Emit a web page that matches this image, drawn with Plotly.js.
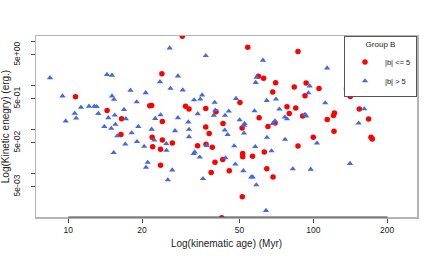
<!DOCTYPE html>
<html>
<head>
<meta charset="utf-8">
<script src="https://cdn.plot.ly/plotly-3.0.1.min.js"></script>
<style>html,body{margin:0;padding:0;background:#fff;}#chart{width:436px;height:262px;}</style>
</head>
<body>
<div id="chart"></div>
<script>
// Group B, |b| <= 5 (red circles)
var redAge = [29.2, 54.0, 86.6, 24.1, 59.7, 62.7, 70.2, 93.5, 83.6, 105.5, 136.6, 68.3, 92.5, 141.6, 10.7, 50.2, 21.5, 21.9, 30.1, 78.1, 84.8, 36.4, 31.1, 154.1, 14.4, 40.1, 79.8, 122.0, 120.9, 90.5, 60.1, 16.5, 168.2, 114.0, 24.2, 42.8, 69.8, 65.3, 36.4, 51.2, 121.5, 37.6, 16.4, 22.0, 100.0, 172.0, 174.1, 24.2, 26.6, 36.5, 33.7, 86.6, 38.7, 22.1, 23.8, 63.1, 51.5, 51.5, 56.5, 42.7, 39.7, 23.8, 64.6, 45.4, 38.3, 68.5, 51.3, 42.3];
var redEnergy = [13.4, 7.49, 5.98, 1.865, 1.635, 1.465, 1.157, 1.144, 0.928, 0.857, 0.857, 0.721, 0.588, 0.569, 0.557, 0.416, 0.351, 0.355, 0.342, 0.330, 0.311, 0.303, 0.296, 0.296, 0.273, 0.254, 0.232, 0.239, 0.210, 0.2035, 0.186, 0.177, 0.175, 0.170, 0.153, 0.137, 0.141, 0.117, 0.114, 0.109, 0.0921, 0.0817, 0.0775, 0.0673, 0.0673, 0.0673, 0.0615, 0.0581, 0.0498, 0.0466, 0.0430, 0.0426, 0.0398, 0.0408, 0.0355, 0.0309, 0.0286, 0.0242, 0.0248, 0.0209, 0.0181, 0.0155, 0.0129, 0.0115, 0.0105, 0.0083, 0.00296, 0.00099];
// Group B, |b| > 5 (blue triangles)
var blueAge = [8.42, 9.47, 9.76, 10.62, 10.77, 11.27, 12.15, 12.77, 13.06, 13.26, 14.39, 15.08, 15.08, 15.37, 14.57, 15.47, 16.88, 17.17, 17.94, 19.02, 20.7, 22.63, 23.67, 23.8, 25.93, 36.41, 28.03, 26.13, 29.33, 28.03, 32.6, 34.57, 35.16, 39.58, 48.36, 39.81, 45.2, 43.6, 39.25, 33.75, 30.9, 50.04, 52.4, 52.24, 57.54, 58.64, 58.2, 62.33, 64.55, 70.43, 72.71, 68.36, 69.8, 76.5, 78.1, 92.5, 93.63, 96.67, 95.59, 111.9, 113.9, 164.1, 161.5, 153.2, 14.03, 15.58, 14.98, 15.85, 18.14, 19.31, 21.9, 22.44, 19.07, 17.09, 20.4, 25.12, 25.16, 15.32, 21.09, 20.76, 27.26, 31.1, 31.1, 43.52, 44.72, 52.13, 64.71, 76.7, 36.72, 32.81, 32.5, 34.41, 47.55, 57.98, 67.5, 43.8, 48.05, 26.56, 25.48, 51.8, 35.46, 55.83, 56.58, 58.52, 64.12, 103.5, 82.5, 97.6, 141.2];
var blueEnergy = [1.51, 0.578, 0.156, 0.233, 0.182, 0.321, 0.339, 0.339, 0.333, 0.231, 1.79, 1.72, 0.578, 0.486, 0.185, 0.213, 0.285, 0.176, 0.784, 0.427, 0.688, 0.178, 1.22, 0.216, 7.18, 4.80, 1.65, 0.867, 0.793, 0.186, 0.474, 0.492, 0.610, 0.416, 0.507, 0.277, 0.262, 0.210, 0.211, 0.228, 0.148, 0.166, 0.137, 0.124, 0.266, 1.55, 1.175, 3.77, 0.457, 0.492, 0.292, 0.137, 0.157, 0.192, 0.175, 0.221, 0.2025, 0.978, 0.684, 0.405, 2.52, 0.894, 0.296, 0.140, 0.117, 0.131, 0.106, 0.0716, 0.0838, 0.117, 0.1013, 0.0574, 0.0531, 0.0466, 0.0413, 0.0478, 0.0335, 0.0298, 0.0179, 0.0138, 0.0936, 0.1007, 0.0683, 0.0971, 0.0767, 0.0829, 0.0665, 0.0599, 0.0435, 0.0309, 0.0283, 0.0235, 0.0426, 0.0408, 0.0326, 0.0226, 0.0163, 0.0120, 0.00715, 0.0115, 0.00762, 0.00832, 0.00832, 0.0055, 0.00144, 0.0491, 0.0127, 0.0125, 0.0169];

var seriesNames = ['|b| <= 5', '|b| > 5'];
var legendTitle = 'Group B';
var xTickVals = [10, 20, 50, 100, 200];
var xTickText = ['10', '20', '50', '100', '200'];
var yTickVals = [10, 5, 1, 0.5, 0.1, 0.05, 0.01, 0.005];
var yTickText = ['', '5e+00', '', '5e-01', '', '5e-02', '', '5e-03'];

var FONT = 'Liberation Sans, Arial, Helvetica, sans-serif';

var traces = [
  {x: redAge, y: redEnergy, type: 'scatter', mode: 'markers', name: seriesNames[0],
   marker: {symbol: 'circle', color: '#FF0000', size: 5.5, line: {width: 0}}},
  {x: blueAge, y: blueEnergy, type: 'scatter', mode: 'markers', name: seriesNames[1],
   marker: {symbol: 'triangle-up', color: '#4169E1', size: 5.5, line: {width: 0}}}
];

var layout = {
  width: 436, height: 262,
  margin: {l: 36, r: 19, t: 36, b: 45, pad: 0},
  paper_bgcolor: '#fff', plot_bgcolor: '#fff',
  font: {family: FONT, size: 8.5, color: '#222'},
  showlegend: true,
  legend: {
    x: 1, xanchor: 'right', y: 1, yanchor: 'top',
    bgcolor: '#fff', bordercolor: '#555', borderwidth: 1,
    font: {family: FONT, size: 7.5, color: '#222'},
    title: {text: legendTitle, side: 'top center', font: {family: FONT, size: 8, color: '#222'}},
    tracegroupgap: 0, itemwidth: 30
  },
  xaxis: {
    type: 'log', range: [0.8682, 2.4233],
    tickmode: 'array', tickvals: xTickVals, ticktext: xTickText,
    ticks: 'outside', ticklen: 4, tickcolor: '#444', tickwidth: 1,
    showgrid: false, zeroline: false,
    showline: true, mirror: true, linecolor: '#b4b4b4', linewidth: 1.5,
    tickfont: {family: FONT, size: 8.5, color: '#222'},
    title: {text: 'Log(kinematic age) (Myr)', font: {family: FONT, size: 10, color: '#222'}, standoff: 6}
  },
  yaxis: {
    type: 'log', range: [-2.989, 1.13],
    tickmode: 'array', tickvals: yTickVals, ticktext: yTickText,
    ticks: 'outside', ticklen: 4, tickcolor: '#444', tickwidth: 1,
    tickangle: -90, ticklabelstandoff: 7,
    showgrid: false, zeroline: false,
    showline: true, mirror: true, linecolor: '#b4b4b4', linewidth: 1.5,
    tickfont: {family: FONT, size: 8.5, color: '#222'},
    title: {text: 'Log(Kinetic enegry) (erg.)', font: {family: FONT, size: 10, color: '#222'}, standoff: 0}
  },
  shapes: [
    {type: 'line', xref: 'paper', yref: 'paper', x0: 0.0848, x1: 0.923, y0: 0, y1: 0,
     line: {color: '#444', width: 1}}
  ]
};

Plotly.newPlot('chart', traces, layout, {staticPlot: true, displayModeBar: false});
</script>
</body>
</html>
